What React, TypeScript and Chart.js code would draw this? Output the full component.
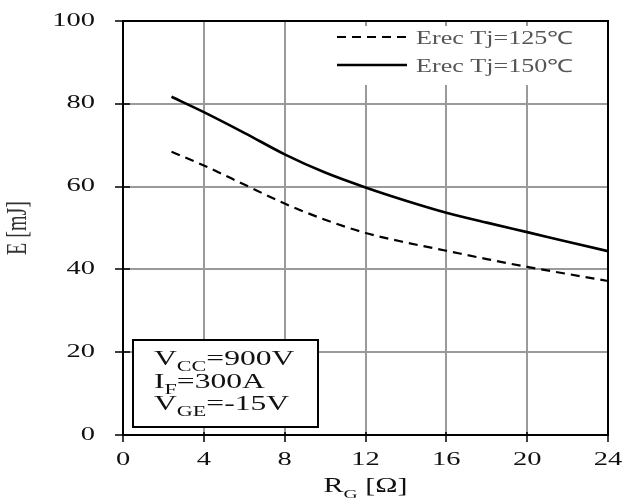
import { useEffect, useRef } from 'react';
import { Chart, registerables } from 'chart.js';

Chart.register(...registerables);

// ---- data ----
const rg = [2.4, 4, 6, 8, 10, 12, 14, 16, 18, 20, 22, 24];
const erec125 = [68.4, 65.1, 60.5, 55.9, 52.0, 48.8, 46.5, 44.5, 42.5, 40.6, 38.9, 37.2];
const erec150 = [81.7, 78.0, 73.0, 67.8, 63.4, 59.8, 56.6, 53.7, 51.3, 49.0, 46.7, 44.4];
const seriesLabels = ['Erec Tj=125℃', 'Erec Tj=150℃'];
const xTickValues = [0, 4, 8, 12, 16, 20, 24];
const yTickValues = [0, 20, 40, 60, 80, 100];
const conditions = [
  { main: 'V', sub: 'CC', rest: '=900V' },
  { main: 'I', sub: 'F', rest: '=300A' },
  { main: 'V', sub: 'GE', rest: '=-15V' },
];
const xTitle = { main: 'R', sub: 'G', rest: ' [Ω]' };
const yTitle = 'E [mJ]';

const FONT = '"Liberation Serif", "Times New Roman", serif';
const SX = 1.5;

function setFont(ctx: CanvasRenderingContext2D, size: number) {
  ctx.font = `${size}px ${FONT}`;
}

function textW(ctx: CanvasRenderingContext2D, s: string, size: number, sx = SX) {
  setFont(ctx, size);
  return ctx.measureText(s).width * sx;
}

function drawText(
  ctx: CanvasRenderingContext2D,
  s: string,
  x: number,
  y: number,
  size: number,
  align: CanvasTextAlign,
  color: string,
  sx = SX
) {
  ctx.save();
  ctx.translate(x, y);
  ctx.scale(sx, 1);
  setFont(ctx, size);
  ctx.textAlign = align;
  ctx.textBaseline = 'alphabetic';
  ctx.fillStyle = color;
  ctx.fillText(s, 0, 0);
  ctx.restore();
}

// draws main + subscript + rest, starting at x (left), baseline y
function drawSubText(
  ctx: CanvasRenderingContext2D,
  parts: { main: string; sub: string; rest: string },
  x: number,
  y: number,
  size: number,
  subSize: number,
  color: string,
  sx = SX
) {
  let cx = x;
  drawText(ctx, parts.main, cx, y, size, 'left', color, sx);
  cx += textW(ctx, parts.main, size, sx);
  drawText(ctx, parts.sub, cx, y + 6, subSize, 'left', color, sx);
  cx += textW(ctx, parts.sub, subSize, sx);
  drawText(ctx, parts.rest, cx, y, size, 'left', color, sx);
  cx += textW(ctx, parts.rest, size, sx);
  return cx - x;
}

const decor = {
  id: 'decor',
  afterDraw(chart: any) {
    const { ctx, chartArea: a } = chart;
    const xs = chart.scales.x;
    const ys = chart.scales.y;
    ctx.save();

    // plot border
    ctx.strokeStyle = '#000';
    ctx.lineWidth = 2;
    ctx.strokeRect(a.left, a.top, a.right - a.left, a.bottom - a.top);

    // tick marks
    ctx.lineWidth = 1.5;
    ctx.beginPath();
    ys.ticks.forEach((t: any) => {
      const py = Math.round(ys.getPixelForValue(t.value));
      ctx.moveTo(a.left - 8, py);
      ctx.lineTo(a.left + 7, py);
    });
    xs.ticks.forEach((t: any) => {
      const px = Math.round(xs.getPixelForValue(t.value));
      ctx.moveTo(px, a.bottom - 3);
      ctx.lineTo(px, a.bottom + 7);
    });
    ctx.stroke();

    // tick labels
    ys.ticks.forEach((t: any) => {
      const py = ys.getPixelForValue(t.value);
      drawText(ctx, String(t.value), a.left - 28, py + 4.5, 19, 'right', '#111');
    });
    xs.ticks.forEach((t: any) => {
      const px = xs.getPixelForValue(t.value);
      drawText(ctx, String(t.value), px, a.bottom + 30, 19, 'center', '#111');
    });

    // x title
    {
      const w =
        textW(ctx, xTitle.main, 20) + textW(ctx, xTitle.sub, 13) + textW(ctx, xTitle.rest, 20);
      const cx = (a.left + a.right) / 2;
      drawSubText(ctx, xTitle, cx - w / 2, a.bottom + 57, 20, 13, '#111');
    }

    // y title (rotated)
    ctx.save();
    ctx.translate(18, (a.top + a.bottom) / 2);
    ctx.rotate(-Math.PI / 2);
    ctx.scale(1, 1.45);
    setFont(ctx, 20);
    ctx.textAlign = 'center';
    ctx.textBaseline = 'middle';
    ctx.fillStyle = '#333';
    ctx.fillText(yTitle, 0, 0);
    ctx.restore();

    // legend (inside plot, top right)
    ctx.fillStyle = '#fff';
    ctx.fillRect(331, a.top + 5, a.right - 4 - 331, 59);
    const ds = chart.data.datasets;
    const rows = [a.top + 23, a.top + 51];
    ds.forEach((d: any, i: number) => {
      const ly = rows[i] - 7;
      ctx.save();
      ctx.strokeStyle = '#000';
      ctx.lineWidth = d.borderWidth;
      ctx.setLineDash(d.borderDash || []);
      ctx.beginPath();
      ctx.moveTo(337, ly);
      ctx.lineTo(407, ly);
      ctx.stroke();
      ctx.restore();
      drawText(ctx, d.label, 416, rows[i], 18, 'left', '#555', 1.45);
    });

    // conditions box
    ctx.fillStyle = '#fff';
    ctx.fillRect(133, 340, 185, 87);
    ctx.strokeStyle = '#000';
    ctx.lineWidth = 2;
    ctx.strokeRect(133, 340, 185, 87);
    const baselines = [365, 388, 410];
    conditions.forEach((c, i) => {
      drawSubText(ctx, c, 154, baselines[i], 20, 14, '#111', 1.58);
    });

    ctx.restore();
  },
};

export default function App() {
  const ref = useRef<HTMLCanvasElement>(null);
  useEffect(() => {
    if (!ref.current) return;
    const chart = new Chart(ref.current, {
      type: 'line',
      data: {
        datasets: [
          {
            label: seriesLabels[0],
            data: rg.map((x, i) => ({ x, y: erec125[i] })),
            borderColor: '#000',
            borderWidth: 2.2,
            borderDash: [9, 6],
            pointRadius: 0,
            tension: 0.4,
            cubicInterpolationMode: 'monotone',
          },
          {
            label: seriesLabels[1],
            data: rg.map((x, i) => ({ x, y: erec150[i] })),
            borderColor: '#000',
            borderWidth: 2.6,
            pointRadius: 0,
            tension: 0.4,
            cubicInterpolationMode: 'monotone',
          },
        ],
      },
      options: {
        responsive: false,
        animation: false,
        devicePixelRatio: 1,
        layout: { padding: { top: 21, right: 20, left: 0, bottom: 0 } },
        plugins: { legend: { display: false }, tooltip: { enabled: false } },
        scales: {
          x: {
            type: 'linear',
            min: 0,
            max: 24,
            afterBuildTicks: (s: any) => {
              s.ticks = xTickValues.map((v) => ({ value: v }));
            },
            afterFit: (s: any) => {
              s.height = 64;
            },
            ticks: { display: false },
            grid: { color: '#9a9a9a', lineWidth: 2, drawTicks: false },
            border: { display: false },
          },
          y: {
            type: 'linear',
            min: 0,
            max: 100,
            afterBuildTicks: (s: any) => {
              s.ticks = yTickValues.map((v) => ({ value: v }));
            },
            afterFit: (s: any) => {
              s.width = 123;
            },
            ticks: { display: false },
            grid: { color: '#9a9a9a', lineWidth: 2, drawTicks: false },
            border: { display: false },
          },
        },
      } as any,
      plugins: [decor],
    });
    return () => chart.destroy();
  }, []);
  return (
    <div style={{ position: 'absolute', left: 0, top: 0, width: 628, height: 499, background: '#fff' }}>
      <canvas ref={ref} width={628} height={499} />
    </div>
  );
}
